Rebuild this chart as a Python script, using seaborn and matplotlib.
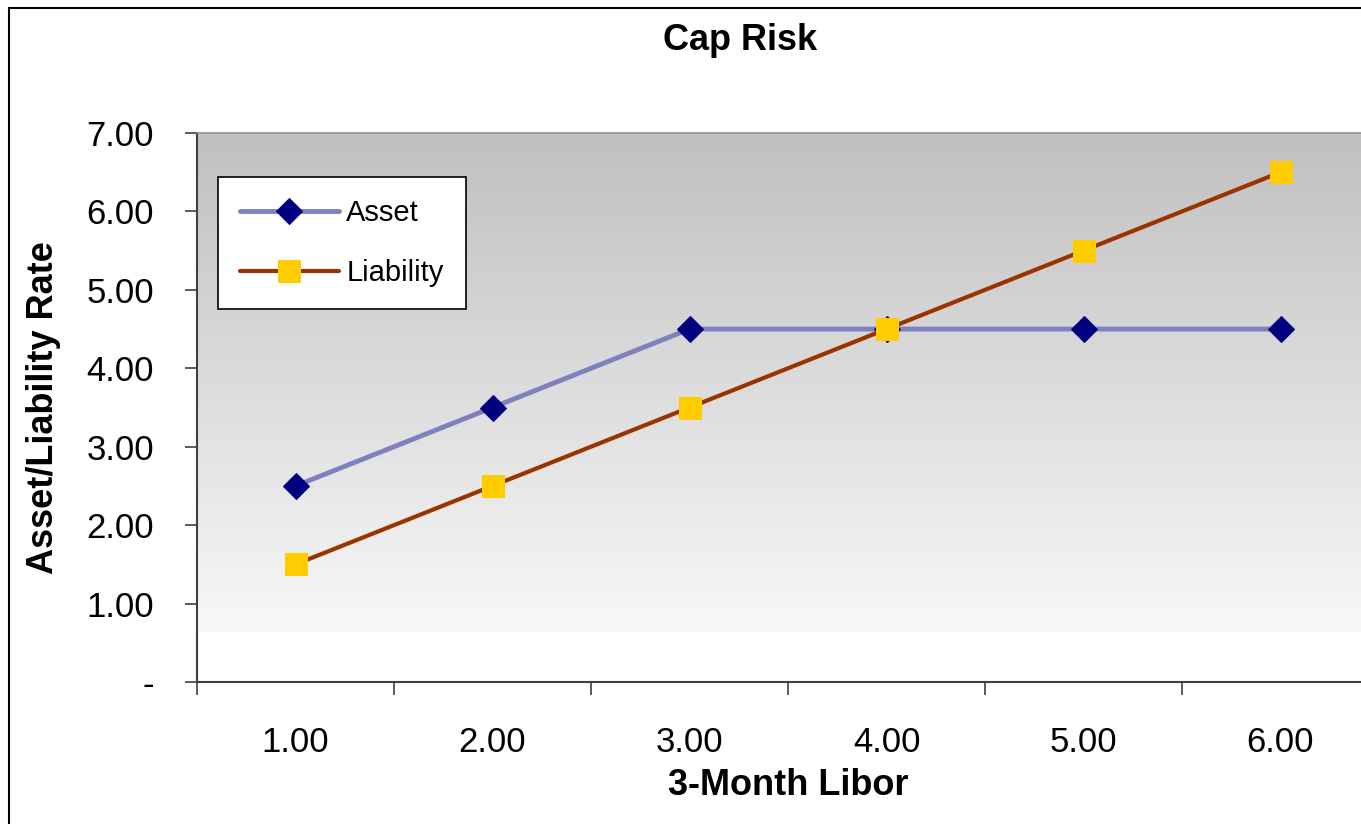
import numpy as np
import pandas as pd
import matplotlib
matplotlib.use("Agg")
import matplotlib.pyplot as plt
from matplotlib.colors import LinearSegmentedColormap
from matplotlib.patches import Rectangle
from matplotlib.ticker import FixedLocator, NullFormatter
import seaborn as sns

# Data
libor = ["1.00", "2.00", "3.00", "4.00", "5.00", "6.00"]
asset = [2.5, 3.5, 4.5, 4.5, 4.5, 4.5]
liability = [1.5, 2.5, 3.5, 4.5, 5.5, 6.5]
y_ticks = [0, 1, 2, 3, 4, 5, 6, 7]

sns.set_theme(style="white")
plt.rcParams["font.family"] = ["Liberation Sans", "DejaVu Sans"]
plt.rcParams.update({"text.color": "black", "axes.labelcolor": "black",
                     "xtick.color": "black", "ytick.color": "black"})

pos = np.arange(len(libor)) + 0.5
df = pd.DataFrame({"pos": pos, "Asset": asset, "Liability": liability})

fig = plt.figure(figsize=(13.61, 8.24), dpi=100)
ax = fig.add_axes([197 / 1361, 1 - 682 / 824, 1182 / 1361, 549 / 824])
ax.set_facecolor("white")

# gradient plot area background
grad_cmap = LinearSegmentedColormap.from_list("g", ["#F8F8F8", "#C0C0C0"])
grad = np.linspace(0, 1, 256).reshape(-1, 1)
ax.imshow(grad, cmap=grad_cmap, origin="lower", aspect="auto",
          extent=[0, 1, 50 / 549, 1], transform=ax.transAxes, zorder=0)

sns.lineplot(data=df, x="pos", y="Asset", ax=ax, color="#8080C0", lw=3.5,
             marker="D", markersize=13, markerfacecolor="#000080",
             markeredgecolor="#000080", label="Asset", zorder=3)
sns.lineplot(data=df, x="pos", y="Liability", ax=ax, color="#993300", lw=3,
             marker="s", markersize=16, markerfacecolor="#FFCC00",
             markeredgecolor="#FFCC00", label="Liability", zorder=3)

ax.set_xlim(0, len(libor))
ax.set_ylim(0, 7)

# ticks between categories, labels centered
ax.xaxis.set_major_locator(FixedLocator(np.arange(len(libor) + 1)))
ax.xaxis.set_major_formatter(NullFormatter())
ax.xaxis.set_minor_locator(FixedLocator(pos))
ax.set_xticklabels(libor, minor=True)
ax.tick_params(axis="x", which="major", direction="out", length=9, width=1.2,
               color="#404040", bottom=True)
ax.tick_params(axis="x", which="minor", length=0, pad=32, labelsize=25)

ax.set_yticks(y_ticks)
ax.set_yticklabels(["-" if v == 0 else f"{v:.2f}" for v in y_ticks])
ax.tick_params(axis="y", direction="out", length=9, width=1.2, color="#404040",
               left=True, pad=22, labelsize=25)

for s in ["left", "bottom"]:
    ax.spines[s].set_color("#404040")
    ax.spines[s].set_linewidth(1.5)
ax.spines["top"].set_color("#909090")
ax.spines["top"].set_linewidth(1.2)
ax.spines["right"].set_visible(False)

ax.set_xlabel("3-Month Libor", fontsize=26, fontweight="bold", labelpad=6)
ax.set_ylabel("Asset/Liability Rate", fontsize=26, fontweight="bold", labelpad=18)
fig.text(740 / 1361, 1 - 41 / 824, "Cap Risk", fontsize=26, fontweight="bold",
         ha="center", va="center")

leg = ax.legend(loc="upper left", bbox_to_anchor=(21 / 1182, 1 - 44 / 549),
                borderaxespad=0, fontsize=21, frameon=True, fancybox=False,
                handlelength=3.4, borderpad=0.75, labelspacing=1.1,
                handletextpad=0.25)
leg.get_frame().set_edgecolor("black")
leg.get_frame().set_linewidth(1.2)
leg.get_frame().set_facecolor("white")
leg.get_frame().set_alpha(1)

# outer chart border
fig.patches.append(Rectangle((9 / 1361, -0.1), 1.2, 1.1 - 8 / 824,
                             transform=fig.transFigure, fill=False,
                             edgecolor="black", lw=1.5))

fig.savefig("out.png", dpi=100)
